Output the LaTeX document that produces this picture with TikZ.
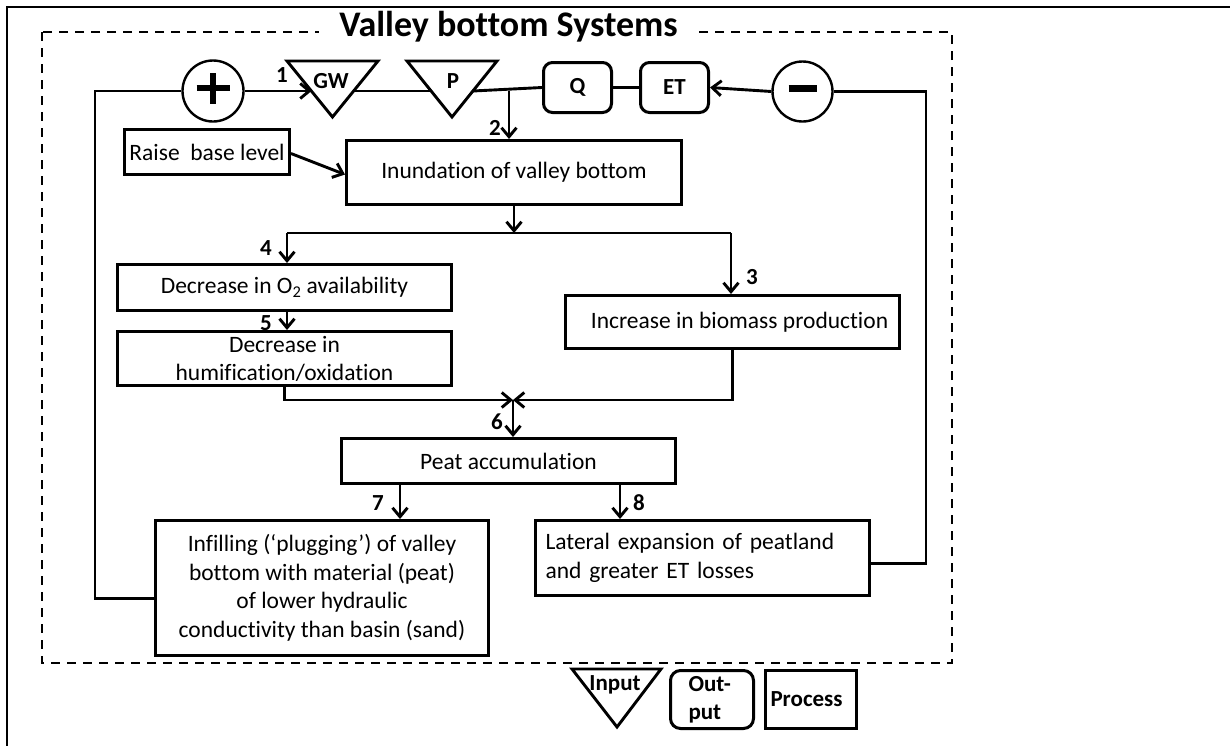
\documentclass[tikz,border=0pt]{standalone}
\usepackage{fontspec}
\setmainfont{Carlito}[Ligatures=NoCommon]
\usetikzlibrary{arrows.meta,calc}
\begin{document}
\begin{tikzpicture}[x=1pt,y=-1pt,
  box/.style={draw, line width=3pt, inner sep=0pt, anchor=north west, align=center, font=\fontsize{23.5}{28.5}\selectfont},
  outbox/.style={box, rounded corners=9pt, font=\bfseries\fontsize{23}{26}\selectfont},
  conn/.style={line width=2.9pt},
  arr/.style={conn, -{Straight Barb[length=9pt,width=15pt]}},
  lbl/.style={font=\bfseries\fontsize{23}{26}\selectfont, anchor=base, inner sep=0pt},
  tri/.style={line width=2.9pt, line join=miter},
  trilbl/.style={font=\bfseries\fontsize{23}{26}\selectfont, anchor=base, inner sep=0pt},
  lgd/.style={font=\bfseries\fontsize{23}{28}\selectfont},
  sign/.style={circle, draw, line width=2.4pt, minimum size=61pt, inner sep=0pt},
]
\useasboundingbox (0,0) rectangle (1230,745);
% outer frame
\draw[line width=2.8pt] (7,760) -- (7,7) -- (1240,7);
% dashed system boundary
\draw[line width=2.7pt, dash pattern=on 9pt off 7pt] (42,32) rectangle (952,663);
\node[font=\bfseries\fontsize{36}{40}\selectfont, fill=white, anchor=base, inner xsep=20pt, inner ysep=3pt] (title) at (508.5,36) {Valley bottom Systems};

% top row
\node[sign] (plus) at (213,91) {};
\draw[line width=6.5pt] ($(plus.center)+(-16.5,-3)$) -- ++(33,0);
\draw[line width=6.5pt] ($(plus.center)+(0,-18)$) -- ++(0,31);
\node[sign, minimum size=60pt] (minus) at (802.5,91.5) {};
\draw[line width=7pt] ($(minus.center)+(-14,-3)$) -- ++(28,0);

\draw[tri] (287,61) -- (378,61) -- (332.5,117) -- cycle;
\node[trilbl] (gw) at (331,88) {GW};
\draw[tri] (407,61) -- (497,61) -- (452,117) -- cycle;
\node[trilbl] (p) at (453,88) {P};
\node[outbox, minimum width=68pt, minimum height=50pt] (q) at (542,61) {Q};
\node[outbox, minimum width=68pt, minimum height=50pt] (et) at (639,61) {ET};

\coordinate (gwL) at (311.5,91);
\coordinate (gwR) at (354,91);
\coordinate (pL) at (431,91);
\coordinate (pR) at (473,91);
\coordinate (c2) at (509,91);

% process boxes
\node[box, minimum width=165pt, minimum height=45pt] (raise) at (123,128) {Raise\ \ base level};
\node[box, minimum width=335pt, minimum height=64pt] (inund) at (345,139) {Inundation of valley bottom};
\node[box, minimum width=334pt, minimum height=46pt] (o2) at (116,263) {Decrease in O\textsubscript{2} availability};
\node[box, minimum width=334pt, minimum height=54pt, font=\fontsize{23.5}{28}\selectfont] (hum) at (116,330) {Decrease in\\humification/oxidation};
\node[box, minimum width=334pt, minimum height=53pt] (inc) at (564,294) {\hspace*{14pt}Increase in biomass production};
\node[box, minimum width=334pt, minimum height=45pt] (peat) at (340,437) {Peat accumulation};
\node[box, minimum width=333pt, minimum height=135pt] (infill) at (154,519) {Infilling (‘plugging’) of valley\\bottom with material (peat)\\of lower hydraulic\\conductivity than basin (sand)};
\node[box, text width=314pt, inner xsep=10pt, align=left, minimum height=75pt] (lat) at (534,519) {Lateral expansion of peatland\\and greater ET losses};

% connectors
\draw[conn] ([yshift=-10.5pt]infill.west) -- ++(-59,0) |- (plus.west);
\draw[arr] (plus.east) -- (gwL);
\draw[conn] (gwR) -- (pL);
\draw[conn] (pR) -- (q.west);
\draw[conn] (q.east) -- (et.west);
\draw[arr] (minus.west) -- (et.east);
\draw[conn] ([yshift=-5.5pt]lat.east) -- ++(55,0) |- (minus.east);
\draw[arr] (c2) -- (c2 |- inund.north);
\draw[arr] ([yshift=-1.5pt]raise.east) -- ([yshift=-2pt]inund.west);

\coordinate (brL) at (287,233);
\coordinate (brR) at (731,233);
\draw[arr] (inund.south) -- (inund.south |- brL);
\draw[conn] (brL) -- (brR);
\draw[arr] (brL) -- (brL |- o2.north);
\draw[arr] (brR) -- (brR |- inc.north);
\draw[arr] (brL |- o2.south) -- (brL |- hum.north);
\coordinate (jn) at (513,400);
\draw[arr] (hum.south) |- (jn);
\draw[arr] (inc.south) |- (jn);
\draw[arr] (jn) -- (jn |- peat.north);
\coordinate (a7) at ([xshift=60pt]peat.south west);
\coordinate (a8) at ([xshift=-57pt]peat.south east);
\draw[arr] (a7) -- (a7 |- infill.north);
\draw[arr] (a8) -- (a8 |- lat.north);

% step numbers
\node[lbl] (l1) at (282,82) {1};
\node[lbl] (l2) at (495,135) {2};
\node[lbl] (l3) at (752,284) {3};
\node[lbl] (l4) at (266,255) {4};
\node[lbl] (l5) at (266,330) {5};
\node[lbl] (l6) at (497,429) {6};
\node[lbl] (l7) at (378,510) {7};
\node[lbl] (l8) at (639,510) {8};

% legend
\draw[tri] (572,669) -- (661,669) -- (617,727) -- cycle;
\node[lgd, anchor=base, inner sep=0pt] (lgin) at (615,690) {Input};
\node[outbox, lgd, rounded corners=10pt, minimum width=83pt, minimum height=58pt, text width=47pt, inner xsep=18pt, align=left, font=\bfseries\fontsize{23}{28}\selectfont] (lgout) at (669,669) {Out-\\put};
\node[box, lgd, minimum height=58pt, text width=81pt, inner xsep=5pt, align=left, font=\bfseries\fontsize{23}{28}\selectfont] (lgproc) at (764,669) {Process};
\end{tikzpicture}
\end{document}
